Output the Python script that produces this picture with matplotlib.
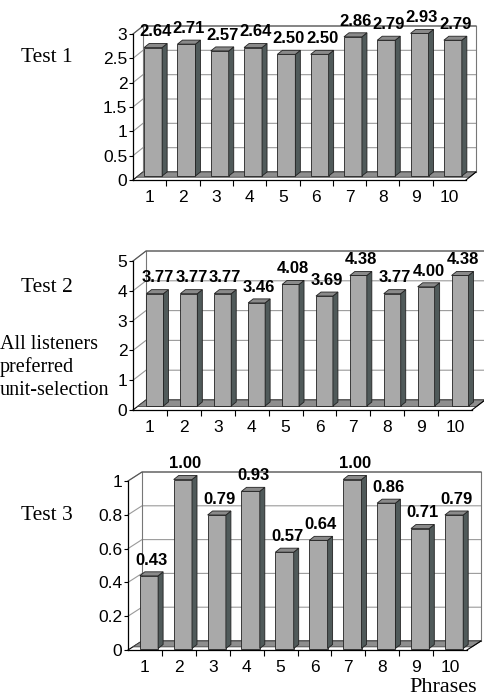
import numpy as np
import matplotlib
matplotlib.use('Agg')
import matplotlib.pyplot as plt
from matplotlib.patches import Polygon

phrases = ['1', '2', '3', '4', '5', '6', '7', '8', '9', '10']
test1 = [2.64, 2.71, 2.57, 2.64, 2.50, 2.50, 2.86, 2.79, 2.93, 2.79]
test2 = [3.77, 3.77, 3.77, 3.46, 4.08, 3.69, 4.38, 3.77, 4.00, 4.38]
test3 = [0.43, 1.00, 0.79, 0.93, 0.57, 0.64, 1.00, 0.86, 0.71, 0.79]
ticks1 = [0, 0.5, 1, 1.5, 2, 2.5, 3]
ticks2 = [0, 1, 2, 3, 4, 5]
ticks3 = [0, 0.2, 0.4, 0.6, 0.8, 1]
titles = ['Test 1', 'Test 2', 'Test 3']
note = ['All listeners', 'preferred', 'unit-selection']

W, H = 484, 696
plt.rcParams['font.family'] = ['Liberation Sans', 'DejaVu Sans']
fig = plt.figure(figsize=(W / 100, H / 100), dpi=100)

# pixel boxes of the front plane: left, right, y of 0, y of top tick
panels = [
    (test1, ticks1, (133, 466, 180, 34), (10, 8), (3.5, 4), 0.54),
    (test2, ticks2, (133, 472, 410, 261), (13, 10), (5, 4), 0.50),
    (test3, ticks3, (128, 467, 650, 481), (14, 9), (4, 1.5), 0.54),
]

FRONT = '#a9a9a9'
SIDE = '#505a5a'
TOP = '#8a8a8a'
FLOOR = '#8e8e8e'
GRID = '#9a9a9a'

for vals, ticks, (l, r, b, t), (wdx, wdy), (sx, sy), bw in panels:
    ax = fig.add_axes([l / W, 1 - b / H, (r - l) / W, (b - t) / H])
    ymax = ticks[-1]
    ax.set_xlim(0.5, 10.5)
    ax.set_ylim(0, ymax)
    kx = 10 / (r - l)
    ky = ymax / (b - t)
    ox, oy = wdx * kx, wdy * ky

    # walls and gridlines
    for v in ticks:
        c = 'black' if v == 0 else GRID
        ax.plot([0.5, 0.5 + ox, 10.5 + ox], [v, v + oy, v + oy], color=c,
                lw=0.8, zorder=1, clip_on=False)
    ax.plot([0.5 + ox, 0.5 + ox], [oy, ymax + oy], color='#777777', lw=0.8,
            zorder=1, clip_on=False)
    ax.plot([10.5 + ox, 10.5 + ox], [oy, ymax + oy], color='#777777', lw=0.8,
            zorder=1, clip_on=False)
    ax.plot([0.5, 0.5 + ox, 10.5 + ox], [ymax, ymax + oy, ymax + oy],
            color='#555555', lw=0.8, zorder=1, clip_on=False)

    # floor
    f = 0.35
    ax.add_patch(Polygon([(0.5 + f * ox, f * oy), (10.5 + f * ox, f * oy),
                          (10.5 + ox, oy), (0.5 + ox, oy)],
                         closed=True, fc=FLOOR, ec='#444444', lw=0.6,
                         zorder=2, clip_on=False))
    ax.plot([10.5, 10.5 + ox], [0, oy], color='black', lw=0.8, zorder=2,
            clip_on=False)

    # bars
    x = np.arange(1, 11)
    bx, by = sx * kx, sy * ky
    dx, dy = 5 * kx, 4 * ky
    xl = x - bw / 2 + bx
    ax.bar(xl, vals, width=bw, bottom=by, align='edge', color=FRONT,
           edgecolor='#222222', lw=0.6, zorder=3, clip_on=False)
    for x0, v in zip(xl, vals):
        top = by + v
        ax.add_patch(Polygon([(x0 + bw, by), (x0 + bw, top),
                              (x0 + bw + dx, top + dy), (x0 + bw + dx, by + dy)],
                             closed=True, fc=SIDE, ec='#222222', lw=0.6,
                             zorder=3, clip_on=False))
        ax.add_patch(Polygon([(x0, top), (x0 + bw, top),
                              (x0 + bw + dx, top + dy), (x0 + dx, top + dy)],
                             closed=True, fc=TOP, ec='#222222', lw=0.6,
                             zorder=3, clip_on=False))
        ax.annotate('%.2f' % v, (x0 + (bw + dx) / 2, top + dy), xytext=(0, 3),
                    textcoords='offset points', ha='center', va='bottom',
                    fontsize=12, fontweight='bold', zorder=5,
                    annotation_clip=False)

    for s in ['top', 'right']:
        ax.spines[s].set_visible(False)
    for s in ['left', 'bottom']:
        ax.spines[s].set_linewidth(0.9)
        ax.spines[s].set_zorder(4)
    ax.set_facecolor('none')
    ax.set_xticks(x, phrases)
    ax.set_xticks(np.arange(1.5, 10.5, 1), minor=True)
    ax.tick_params(axis='x', which='major', length=0, pad=7.5, labelsize=12.5)
    ax.tick_params(axis='x', which='minor', length=4, width=0.8,
                   direction='out')
    ax.set_yticks(ticks, ['%g' % v for v in ticks])
    ax.tick_params(axis='y', length=3, width=0.8, pad=1, labelsize=12.5)

serif = ['Liberation Serif', 'DejaVu Serif']
for txt, yy in zip(titles, [57, 288, 515]):
    fig.text(47 / W, 1 - yy / H, txt, family=serif, fontsize=15.5,
             ha='center', va='center')
for txt, yy in zip(note, [349, 372, 395]):
    fig.text(0 / W, 1 - yy / H, txt, family=serif, fontsize=14.5,
             ha='left', va='baseline')
fig.text(443 / W, 1 - 692 / H, 'Phrases', family=serif, fontsize=16,
         ha='center', va='baseline')

fig.savefig('out.png', dpi=100)
